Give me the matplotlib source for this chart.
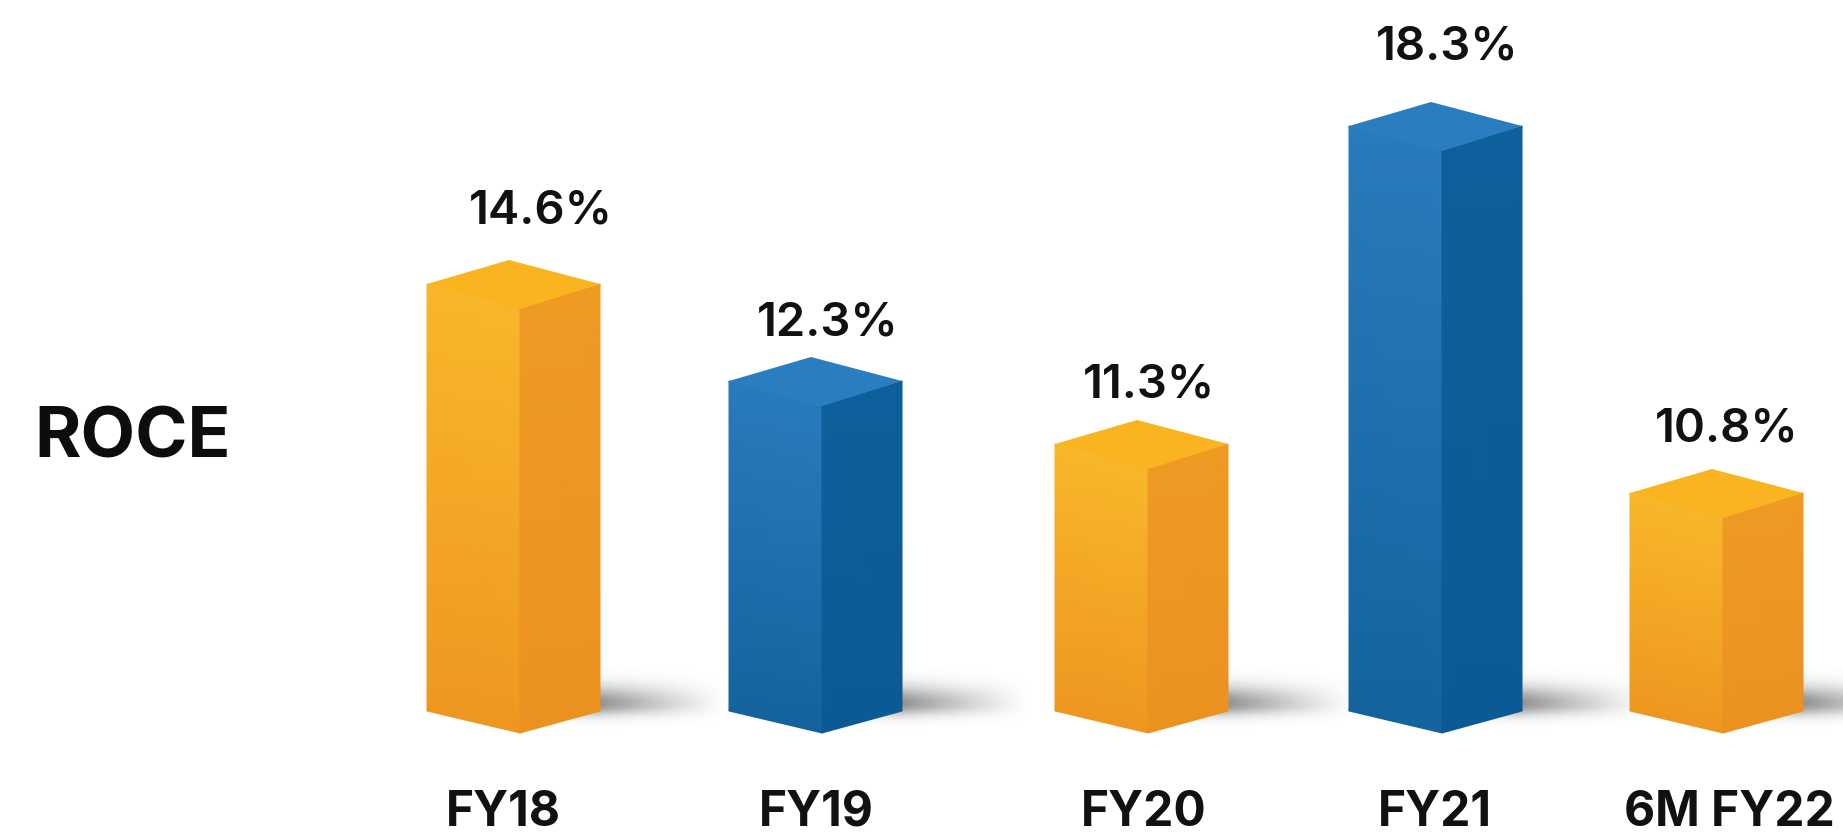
import numpy as np
import matplotlib
matplotlib.use('Agg')
from matplotlib import pyplot as plt
from matplotlib.colors import LinearSegmentedColormap

plt.rcParams['font.family'] = ['Inter', 'Roboto', 'DejaVu Sans']

# data
categories = ['FY18', 'FY19', 'FY20', 'FY21', '6M FY22']
roce = [14.6, 12.3, 11.3, 18.3, 10.8]
is_blue = [False, True, False, True, False]

# the drawn bars are not proportional to the numbers, so the y scale is
# read from the picture: value -> pixels above the base of the bar
scale_values = [-10, 0, 10.8, 11.3, 12.3, 14.6, 18.3, 40]
scale_heights = [-200, 0, 215, 264, 327, 424, 582, 1200]

# layout, in pixels of the 1843x840 picture
bar_left = [427, 729, 1055, 1349, 1630]
front_w = 93
side_w = 80
apex_dx = 82
base_px = 733
shoulder = 25
apex = 49
bottom_rise = 22
value_x = [541, 828, 1149, 1447, 1727]
value_y = [212, 323, 386, 47, 429]
cat_x = [503, 816, 1144, 1435, 1729]
cat_y = 813

gold = {'front': ['#EE9720', '#F8B72B'], 'side': ['#EB9120', '#EE9A23'], 'top': '#F9B420'}
blue = {'front': ['#15639D', '#2A7BBC'], 'side': ['#0C5A95', '#0E5F9B'], 'top': '#2A7DBE'}


def forward(v):
    return np.interp(v, scale_values, scale_heights)


def inverse(h):
    return np.interp(h, scale_heights, scale_values)


def y_at(v, off=0):
    return inverse(forward(v) + off)


def y_px(py):
    return inverse(base_px - py)


def cmap_of(c):
    return LinearSegmentedColormap.from_list('c', c)


fig = plt.figure(figsize=(18.43, 8.4), dpi=100, facecolor='white')
ax = fig.add_axes([0, 0, 1, 1])
ax.set_yscale('function', functions=(forward, inverse))
ax.set_xlim(0, 1843)
ax.set_ylim(y_px(840), y_px(0))
ax.axis('off')

# soft shadow to the right of each bar, tapering off under the bar too
shadow = LinearSegmentedColormap.from_list('s', ['#FFFFFF', '#8A8A8A'])
for left in bar_left:
    xr = left + front_w + side_w - 8
    xs = np.linspace(left + front_w + 20, xr + 135, 50)
    py = np.linspace(660, 760, 40)
    X, P = np.meshgrid(xs, py)
    fade = np.clip(1 - (X - xr) / 135, 0, 1) ** 1.2
    ramp = np.clip((X - (left + front_w + 20)) / (xr - left - front_w - 20), 0, 1)
    sigma = np.where(P > 704, 11, 17)
    C = fade * ramp * np.exp(-((P - 704) / sigma) ** 2)
    ax.pcolormesh(X, y_px(P), C, shading='gouraud', cmap=shadow, vmin=0, vmax=1, zorder=1)

for i in range(len(categories)):
    st = blue if is_blue[i] else gold
    v = roce[i]
    l = bar_left[i]
    m = l + front_w
    r = m + side_w

    # front face
    X = np.array([[l, m], [l, m]])
    Y = np.array([[y_at(0, bottom_rise), y_at(0)], [y_at(v, shoulder), y_at(v)]])
    ax.pcolormesh(X, Y, np.array([[0, 0], [1, 1]]), shading='gouraud',
                  cmap=cmap_of(st['front']), vmin=0, vmax=1, zorder=3)
    # side face
    X = np.array([[m, r], [m, r]])
    Y = np.array([[y_at(0), y_at(0, bottom_rise)], [y_at(v), y_at(v, shoulder)]])
    ax.pcolormesh(X, Y, np.array([[0, 0], [1, 1]]), shading='gouraud',
                  cmap=cmap_of(st['side']), vmin=0, vmax=1, zorder=3)
    # top face
    ax.fill([l, m, r, l + apex_dx], [y_at(v, shoulder), y_at(v), y_at(v, shoulder), y_at(v, apex)],
            color=st['top'], lw=0, zorder=4)

    ax.text(value_x[i], y_px(value_y[i]), '%.1f%%' % v, ha='center', va='center',
            fontsize=34, fontweight='semibold', color='#111111', zorder=5)
    ax.text(cat_x[i], y_px(cat_y), categories[i], ha='center', va='center',
            fontsize=34.5, fontweight='bold', color='#111111', zorder=5)

ax.text(133, y_px(439), 'ROCE', ha='center', va='center', fontsize=51,
        fontweight='bold', color='#0D0D0D', zorder=5)

plt.savefig('out.png', dpi=100)
